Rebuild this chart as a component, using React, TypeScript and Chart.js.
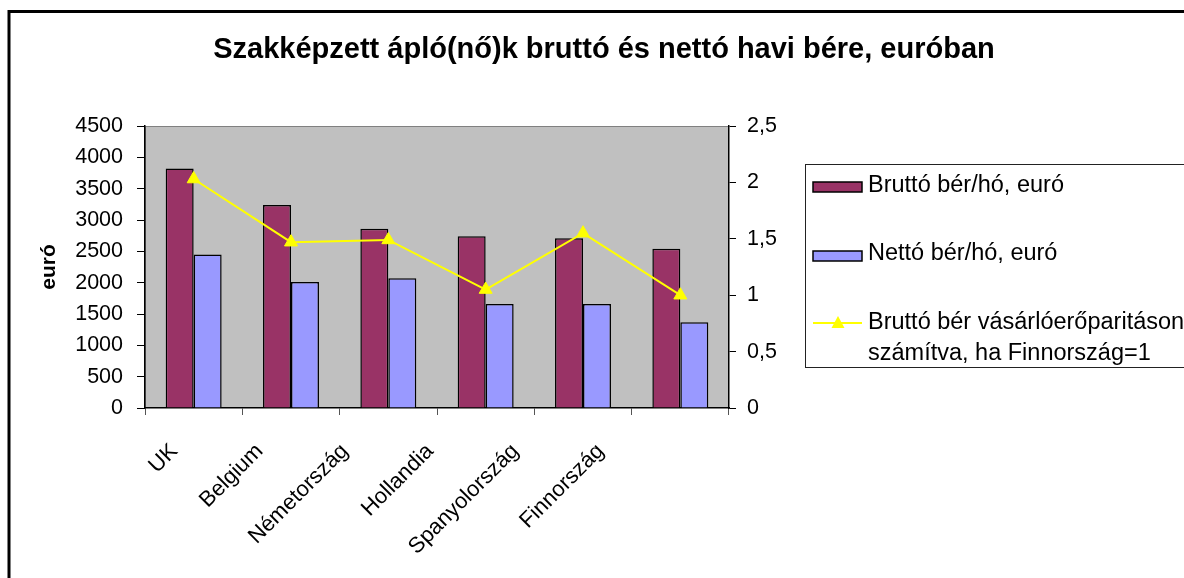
import React, { useEffect, useRef } from 'react';
import { Chart, registerables } from 'chart.js';

Chart.register(...registerables);

const categories = ['UK', 'Belgium', 'Németország', 'Hollandia', 'Spanyolország', 'Finnország'];
const bruttoValues = [3820, 3240, 2860, 2740, 2710, 2540];
const nettoValues = [2450, 2010, 2070, 1660, 1660, 1370];
const ppsValues = [2.03, 1.47, 1.49, 1.05, 1.55, 1.0];

const chartTitle = 'Szakképzett ápló(nő)k bruttó és nettó havi bére, euróban';
const leftAxisTitle = 'euró';
const seriesLabels = [
  'Bruttó bér/hó, euró',
  'Nettó bér/hó, euró',
  'Bruttó bér vásárlóerőparitáson számítva, ha Finnország=1',
];
const legendLines = [
  ['Bruttó bér/hó, euró'],
  ['Nettó bér/hó, euró'],
  ['Bruttó bér vásárlóerőparitáson', 'számítva, ha Finnország=1'],
];

const FONT = '"Liberation Sans", Arial, sans-serif';
const BRUTTO = '#993366';
const NETTO = '#9999FF';
const LINE = '#FFFF00';

const decorPlugin = {
  id: 'decor',
  beforeDraw(chart: any) {
    const { ctx, chartArea: ca } = chart;
    ctx.save();
    ctx.fillStyle = '#ffffff';
    ctx.fillRect(0, 0, chart.width, chart.height);
    ctx.fillStyle = '#C0C0C0';
    ctx.fillRect(ca.left, ca.top, ca.right - ca.left, ca.bottom - ca.top);
    ctx.strokeStyle = '#808080';
    ctx.lineWidth = 1;
    ctx.strokeRect(ca.left + 0.5, ca.top + 0.5, ca.right - ca.left - 1, ca.bottom - ca.top - 1);
    ctx.restore();
  },
  afterDraw(chart: any) {
    const { ctx, chartArea: ca } = chart;
    const xs = chart.scales.x;
    ctx.save();
    // outer frame
    ctx.strokeStyle = '#000';
    ctx.lineWidth = 3;
    ctx.strokeRect(9, 11.5, 3000, 3000);

    // title
    ctx.fillStyle = '#000';
    ctx.font = `bold 29px ${FONT}`;
    ctx.textAlign = 'center';
    ctx.textBaseline = 'middle';
    ctx.fillText(chartTitle, 604, 50);

    // x category labels (rotated 45°)
    ctx.font = `22px ${FONT}`;
    ctx.textAlign = 'right';
    ctx.textBaseline = 'top';
    categories.forEach((lab, i) => {
      const c = xs.getPixelForValue(i);
      const ex = ca.left + (c - ca.left) * 0.876 - 21;
      const ey = 440;
      ctx.save();
      ctx.translate(ex, ey);
      ctx.rotate(-Math.PI / 4);
      ctx.fillText(lab, 0, 0);
      ctx.restore();
    });

    // legend
    ctx.strokeStyle = '#222';
    ctx.lineWidth = 1;
    ctx.strokeRect(805.5, 164.5, 800, 203);
    ctx.font = `23.5px ${FONT}`;
    ctx.textAlign = 'left';
    ctx.textBaseline = 'middle';
    // entry 1
    ctx.fillStyle = BRUTTO;
    ctx.fillRect(813, 182, 49, 10);
    ctx.strokeStyle = '#000';
    ctx.lineWidth = 1.5;
    ctx.strokeRect(813, 182, 49, 10);
    ctx.fillStyle = '#000';
    ctx.fillText(legendLines[0][0], 868, 186);
    // entry 2
    ctx.fillStyle = NETTO;
    ctx.fillRect(813, 251, 49, 10);
    ctx.strokeRect(813, 251, 49, 10);
    ctx.fillStyle = '#000';
    ctx.fillText(legendLines[1][0], 868, 254);
    // entry 3
    ctx.strokeStyle = LINE;
    ctx.lineWidth = 2;
    ctx.beginPath();
    ctx.moveTo(813, 323);
    ctx.lineTo(862, 323);
    ctx.stroke();
    ctx.fillStyle = LINE;
    ctx.beginPath();
    ctx.moveTo(838, 316);
    ctx.lineTo(844.5, 328);
    ctx.lineTo(831.5, 328);
    ctx.closePath();
    ctx.fill();
    ctx.fillStyle = '#000';
    ctx.fillText(legendLines[2][0], 868, 323);
    ctx.fillText(legendLines[2][1], 868, 354);
    ctx.restore();
  },
};

export default function App() {
  const ref = useRef<HTMLCanvasElement | null>(null);
  useEffect(() => {
    if (!ref.current) return;
    const chart = new Chart(ref.current, {
      type: 'bar',
      data: {
        labels: categories,
        datasets: [
          {
            type: 'line',
            label: seriesLabels[2],
            data: ppsValues,
            yAxisID: 'y1',
            borderColor: LINE,
            backgroundColor: LINE,
            borderWidth: 2,
            pointStyle: 'triangle',
            pointRadius: 7.5,
            pointBackgroundColor: LINE,
            pointBorderColor: LINE,
            pointBorderWidth: 1,
            tension: 0,
            order: 0,
          } as any,
          {
            type: 'bar',
            label: seriesLabels[0],
            data: bruttoValues,
            yAxisID: 'y',
            backgroundColor: BRUTTO,
            borderColor: '#000',
            borderWidth: 1.5,
            categoryPercentage: 0.575,
            barPercentage: 1,
            order: 1,
          },
          {
            type: 'bar',
            label: seriesLabels[1],
            data: nettoValues,
            yAxisID: 'y',
            backgroundColor: NETTO,
            borderColor: '#000',
            borderWidth: 1.5,
            categoryPercentage: 0.575,
            barPercentage: 1,
            order: 1,
          },
        ],
      },
      options: {
        responsive: false,
        animation: false,
        layout: { padding: { top: 126, left: 0, right: 0, bottom: 0 } },
        plugins: {
          legend: { display: false },
          title: { display: false },
          tooltip: { enabled: false },
        },
        scales: {
          x: {
            type: 'category',
            offset: true,
            grid: { offset: true, drawOnChartArea: false, drawTicks: true, tickLength: 7, color: '#555' },
            border: { display: true, color: '#000', width: 1.5 },
            ticks: { display: false },
            afterFit: (s: any) => { s.height = 170; },
          },
          y: {
            position: 'left',
            min: 0,
            max: 4500,
            ticks: {
              stepSize: 500,
              color: '#000',
              font: { family: FONT, size: 21.5 },
              padding: 14,
              callback: (v: any) => String(v),
            },
            grid: { drawOnChartArea: false, tickLength: 8, color: '#000' },
            border: { display: true, color: '#000', width: 1.5 },
            title: {
              display: true,
              text: leftAxisTitle,
              color: '#000',
              font: { family: FONT, size: 21, weight: 'bold' },
              padding: { top: 37, bottom: 0 },
            },
            afterFit: (s: any) => { s.width = 145; },
          },
          y1: {
            position: 'right',
            min: 0,
            max: 2.5,
            ticks: {
              stepSize: 0.5,
              color: '#000',
              font: { family: FONT, size: 21.5 },
              padding: 11,
              callback: (v: any) => String(v).replace('.', ','),
            },
            grid: { drawOnChartArea: false, tickLength: 7, color: '#000' },
            border: { display: true, color: '#000', width: 1.5 },
            afterFit: (s: any) => { s.width = 1184 - 729; },
          },
        },
      } as any,
      plugins: [decorPlugin],
    });
    return () => chart.destroy();
  }, []);
  return (
    <div style={{ position: 'absolute', left: 0, top: 0, width: 1184, height: 578 }}>
      <canvas ref={ref} width={1184} height={578} style={{ display: 'block' }} />
    </div>
  );
}
